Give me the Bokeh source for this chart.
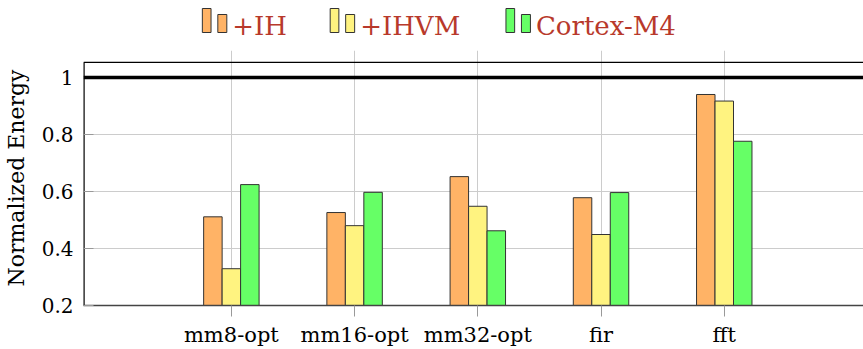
from bokeh.plotting import figure
from bokeh.layouts import column
from bokeh.models import Range1d, FixedTicker, Span, ColumnDataSource
from bokeh.embed import file_html
from bokeh.resources import INLINE
from bokeh.core.properties import value

# ---------------- data ----------------
categories = ["mm8-opt", "mm16-opt", "mm32-opt", "fir", "fft"]
series_names = ["+IH", "+IHVM", "Cortex-M4"]
ih = [0.511, 0.526, 0.652, 0.578, 0.940]
ihvm = [0.329, 0.480, 0.548, 0.449, 0.917]
cortex_m4 = [0.624, 0.597, 0.462, 0.596, 0.776]
y_ticks = [0.2, 0.4, 0.6, 0.8, 1.0]
y_tick_labels = ["0.2", "0.4", "0.6", "0.8", "1"]
baseline_level = 1.0

# ---------------- style ----------------
FONT = "DejaVu Serif"
COLORS = ["#FFB366", "#FFF380", "#66FF66"]
EDGE = "#333333"
LEGEND_TEXT = "#b8392b"
GRID = "#cccccc"

X0, X1 = -1.2, 5.13
Y0, Y1 = 0.2, 1.0943
TOP_LINE = 1.0524
BAR_W = 0.15
OFFSETS = [-BAR_W, 0.0, BAR_W]
LEFT = 82
LEG_H = 50

# ---------------- legend (own small figure, pixel units) ----------------
leg = figure(width=863, height=LEG_H, x_range=Range1d(LEFT, 863), y_range=Range1d(0, LEG_H),
             output_backend="svg", toolbar_location=None, min_border=0,
             min_border_left=LEFT, outline_line_color=None)
leg.axis.visible = False
leg.grid.visible = False
entry_x = [201, 329, 505]
for name, col, ex in zip(series_names, COLORS, entry_x):
    leg.quad(left=[ex, ex + 15.5], right=[ex + 8.7, ex + 24.5],
             top=[LEG_H - 8, LEG_H - 14], bottom=[LEG_H - 32, LEG_H - 32], fill_color=col,
             line_color=EDGE, line_width=1)
    leg.text(x=[ex + 30], y=[LEG_H - 25], text=[name], text_font=value(FONT),
             text_font_size="26px", text_color=LEGEND_TEXT,
             text_baseline="middle", text_align="left")

# ---------------- main figure ----------------
p = figure(width=863, height=299, x_range=Range1d(X0, X1), y_range=Range1d(Y0, Y1),
           output_backend="svg", toolbar_location=None,
           min_border_left=LEFT, min_border_right=0, min_border_top=0,
           min_border_bottom=43, outline_line_color=None)

xs_idx = list(range(len(categories)))
for vals, col, off in zip([ih, ihvm, cortex_m4], COLORS, OFFSETS):
    src = ColumnDataSource(dict(x=[i + off for i in xs_idx], top=vals))
    p.vbar(x="x", top="top", bottom=Y0, width=BAR_W, source=src,
           fill_color=col, line_color=EDGE, line_width=1)

p.add_layout(Span(location=baseline_level, dimension="width",
                  line_color="black", line_width=3.5))

p.segment(x0=[X0], y0=[TOP_LINE], x1=[X1], y1=[TOP_LINE], line_color="black", line_width=1.2)
p.segment(x0=[X0], y0=[Y0], x1=[X0], y1=[TOP_LINE], line_color="black", line_width=2.4)

xa = p.xaxis[0]
xa.ticker = FixedTicker(ticks=xs_idx)
xa.major_label_overrides = {i: c for i, c in zip(xs_idx, categories)}
xa.major_label_text_font = FONT
xa.major_label_text_font_size = "21px"
xa.major_label_text_color = "black"
xa.major_label_standoff = 6
xa.major_tick_out = 11
xa.major_tick_in = 0
xa.major_tick_line_color = "#999999"
xa.minor_tick_line_color = None
xa.axis_line_color = "#444444"
xa.axis_line_width = 1.5

ya = p.yaxis[0]
ya.ticker = FixedTicker(ticks=y_ticks)
ya.major_label_overrides = {t: l for t, l in zip(y_ticks, y_tick_labels)}
ya.major_label_text_font = FONT
ya.major_label_text_font_size = "20px"
ya.major_label_text_color = "black"
ya.major_label_standoff = 10
ya.major_tick_in = 10
ya.major_tick_out = 0
ya.major_tick_line_color = "#999999"
ya.minor_tick_line_color = None
ya.axis_line_color = None
ya.axis_label = "Normalized Energy"
ya.axis_label_text_font = FONT
ya.axis_label_text_font_size = "22px"
ya.axis_label_text_font_style = "normal"
ya.axis_label_text_color = "black"
ya.axis_label_standoff = 10

p.xgrid.ticker = FixedTicker(ticks=xs_idx)
p.ygrid.ticker = FixedTicker(ticks=y_ticks)
p.xgrid.grid_line_color = GRID
p.ygrid.grid_line_color = GRID
p.grid.grid_line_width = 1

layout = column(leg, p, spacing=0)
open("out.html", "w").write(file_html(layout, INLINE))
